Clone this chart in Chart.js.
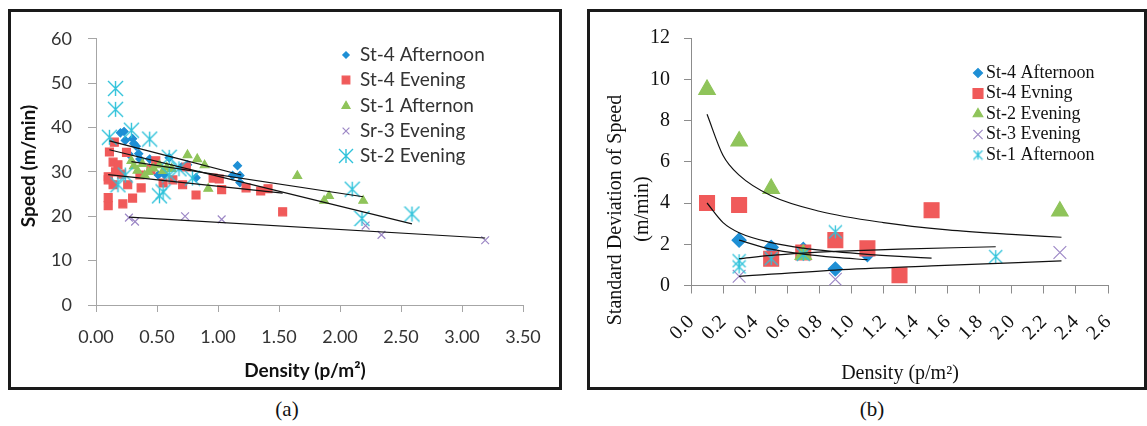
<!DOCTYPE html>
<html>
<head>
<meta charset="utf-8">
<title>Speed and standard deviation of speed vs density</title>
<script src="https://cdn.jsdelivr.net/npm/chart.js@4.4.0/dist/chart.umd.min.js"></script>
<style>
    html, body { margin: 0; padding: 0; background: #fff; }
    body { width: 1147px; height: 426px; position: relative; overflow: hidden; }
    .panel { position: absolute; top: 9px; height: 375px; border: 3px solid #1a1a1a; background: #fff; }
    #panelA { left: 8px; width: 548px; }
    #panelB { left: 587px; width: 554px; }
    .caption { position: absolute; top: 397px; width: 60px; text-align: center;
               font: 21px "Liberation Serif", "Times New Roman", serif; color: #111; }
</style>
</head>
<body>
<div class="panel" id="panelA"><canvas id="speedChart"></canvas></div>
<div class="panel" id="panelB"><canvas id="sdChart"></canvas></div>
<div class="caption" style="left:257px">(a)</div>
<div class="caption" style="left:842px">(b)</div>

<script>
// ---------- (a) speed vs density ----------
const aNames = ['St-4 Afternoon', 'St-4 Evening', 'St-1 Afternon', 'Sr-3 Evening', 'St-2 Evening'];
const aXTicks = [0, 0.5, 1.0, 1.5, 2.0, 2.5, 3.0, 3.5];
const aYTicks = [0, 10, 20, 30, 40, 50, 60];

const a4AftX = [0.20, 0.23, 0.24, 0.30, 0.31, 0.33, 0.27, 0.35, 0.36, 0.44, 0.51, 0.56, 0.60, 0.70, 0.75, 0.82, 1.12, 1.16, 1.18, 1.18];
const a4AftY = [38.8, 39.1, 37.1, 37.5, 36.4, 35.8, 34.0, 34.1, 32.9, 32.9, 29.3, 29.4, 33.2, 31.1, 31.6, 28.7, 29.2, 31.4, 29.2, 27.6];

const a4EveX = [0.15, 0.11, 0.25, 0.14, 0.18, 0.16, 0.10, 0.10, 0.14, 0.21, 0.26, 0.37, 0.10, 0.10, 0.22, 0.30, 0.36, 0.45, 0.49, 0.55, 0.63, 0.71, 0.74, 0.82, 0.96, 1.01, 1.03, 1.23, 1.35, 1.41, 1.53];
const a4EveY = [36.7, 34.5, 34.4, 32.2, 31.6, 30.0, 28.9, 28.2, 27.1, 29.5, 27.1, 26.4, 24.2, 22.4, 22.8, 24.1, 29.3, 30.5, 32.5, 27.5, 28.2, 27.1, 31.1, 24.8, 28.6, 28.4, 26.0, 26.4, 25.7, 26.2, 21.0];

const a1AftX = [0.29, 0.31, 0.34, 0.38, 0.40, 0.43, 0.47, 0.52, 0.55, 0.58, 0.62, 0.75, 0.83, 0.89, 0.92, 1.65, 1.87, 1.91, 2.19];
const a1AftY = [32.5, 31.3, 30.3, 31.8, 29.2, 30.0, 30.8, 31.5, 30.2, 31.0, 30.7, 33.8, 32.9, 31.5, 26.2, 29.1, 23.5, 24.6, 23.5];

const a3EveX = [0.27, 0.32, 0.73, 1.03, 2.21, 2.34, 3.19];
const a3EveY = [19.7, 18.8, 20.0, 19.3, 17.9, 15.8, 14.6];

const a2EveX = [0.16, 0.16, 0.11, 0.29, 0.44, 0.18, 0.24, 0.60, 0.60, 0.68, 0.52, 0.55, 0.79, 2.10, 2.18, 2.59];
const a2EveY = [48.8, 44.1, 37.8, 39.4, 37.4, 27.1, 29.3, 33.3, 29.3, 30.7, 24.6, 25.5, 28.6, 26.1, 19.5, 20.5];

// linear trend lines, end points
const aFit4AftX = [0.11, 1.19], aFit4AftY = [37.0, 29.3];
const aFit4EveX = [0.10, 1.53], aFit4EveY = [29.4, 25.2];
const aFit1AftX = [0.29, 2.19], aFit1AftY = [32.3, 24.4];
const aFit3EveX = [0.27, 3.19], aFit3EveY = [19.8, 15.1];
const aFit2EveX = [0.11, 2.59], aFit2EveY = [35.0, 18.3];

// ---------- (b) standard deviation of speed vs density ----------
const bNames = ['St-4 Afternoon', 'St-4 Evning', 'St-2 Evening', 'St-3 Evening', 'St-1 Afternoon'];
const bXTicks = [0, 0.2, 0.4, 0.6, 0.8, 1.0, 1.2, 1.4, 1.6, 1.8, 2.0, 2.2, 2.4, 2.6];
const bYTicks = [0, 2, 4, 6, 8, 10, 12];

const b4AftX = [0.3, 0.5, 0.7, 0.9, 1.1];
const b4AftY = [2.2, 1.85, 1.75, 0.8, 1.5];
const b4EveX = [0.1, 0.3, 0.5, 0.7, 0.9, 1.1, 1.3, 1.5];
const b4EveY = [4.0, 3.9, 1.3, 1.6, 2.2, 1.8, 0.5, 3.65];
const b2EveX = [0.1, 0.3, 0.5, 0.7, 2.3];
const b2EveY = [9.5, 7.0, 4.7, 1.5, 3.6];
const b3EveX = [0.3, 0.9, 2.3];
const b3EveY = [0.45, 0.3, 1.6];
const b1AftX = [0.3, 0.3, 0.5, 0.7, 0.9, 1.9];
const b1AftY = [1.2, 0.9, 1.3, 1.5, 2.6, 1.4];

// fitted curves, points
const bFit2EveX = [0.1, 0.2, 0.3, 0.5, 0.8, 1.2, 1.6, 2.0, 2.31];
const bFit2EveY = [8.3, 6.3, 5.35, 4.35, 3.6, 3.05, 2.7, 2.48, 2.34];
const bFit4EveX = [0.1, 0.2, 0.3, 0.5, 0.7, 0.9, 1.1, 1.3, 1.5];
const bFit4EveY = [4.0, 3.05, 2.56, 2.08, 1.81, 1.64, 1.51, 1.41, 1.33];
const bFit4AftX = [0.3, 0.5, 0.7, 0.9, 1.1];
const bFit4AftY = [2.2, 1.76, 1.52, 1.36, 1.25];
const bFit1AftX = [0.3, 0.5, 0.7, 0.9, 1.3, 1.9];
const bFit1AftY = [1.3, 1.46, 1.57, 1.65, 1.76, 1.88];
const bFit3EveX = [0.3, 0.9, 1.5, 2.31];
const bFit3EveY = [0.44, 0.75, 0.95, 1.19];

const BLUE = '#1e8fd5', RED = '#f05a5a', GREEN = '#8fc45a', PURPLE = '#9d88c6', CYAN = '#2ec2da';

function toPoints(xs, ys) {
    return xs.map(function(x, i) { return { x: x, y: ys[i] }; });
}

// excel style asterisk marker: vertical bar plus an X
function asterisk(size, color, width) {
    const c = document.createElement('canvas');
    c.width = size; c.height = size;
    const g = c.getContext('2d');
    const m = size / 2, r = size / 2 - 1;
    g.strokeStyle = color;
    g.lineWidth = width;
    g.beginPath();
    g.moveTo(m, m - r); g.lineTo(m, m + r);
    g.moveTo(m - r, m - r); g.lineTo(m + r, m + r);
    g.moveTo(m + r, m - r); g.lineTo(m - r, m + r);
    g.stroke();
    return c;
}

function scatterSet(label, xs, ys, color, style, radius, order) {
    return {
        label: label,
        data: toPoints(xs, ys),
        pointStyle: style,
        pointRadius: radius,
        pointHoverRadius: radius,
        backgroundColor: color,
        borderColor: color,
        borderWidth: 1.2,
        order: order
    };
}

function trendSet(xs, ys) {
    return {
        label: '',
        isTrend: true,
        data: toPoints(xs, ys),
        showLine: true,
        pointRadius: 0,
        pointHoverRadius: 0,
        borderColor: '#111',
        borderWidth: 1.2,
        tension: 0.4,
        cubicInterpolationMode: 'monotone',
        order: 0
    };
}

// legend and axis titles are placed where the original figure has them
const panelText = {
    id: 'panelText',
    afterDraw: function(chart, args, opts) {
        const ctx = chart.ctx;
        ctx.save();
        const lg = opts.legend;
        let row = 0;
        chart.data.datasets.forEach(function(ds) {
            if (ds.isTrend) return;
            const y = lg.rows[row];
            const mk = lg.markers[row];
            ctx.fillStyle = ds.backgroundColor;
            ctx.strokeStyle = ds.borderColor;
            ctx.lineWidth = ds.borderWidth;
            Chart.helpers.drawPoint(ctx, { pointStyle: mk.style, radius: mk.r, rotation: 0, borderWidth: ds.borderWidth }, lg.x, y);
            ctx.fillStyle = lg.color;
            ctx.font = lg.font;
            ctx.textAlign = 'left';
            ctx.textBaseline = 'middle';
            ctx.fillText(ds.label, lg.textX, y);
            row++;
        });
        opts.titles.forEach(function(t) {
            ctx.save();
            ctx.translate(t.x, t.y);
            if (t.rot) ctx.rotate(-Math.PI / 2);
            ctx.font = t.font;
            ctx.fillStyle = t.color;
            ctx.textAlign = 'center';
            ctx.textBaseline = 'middle';
            ctx.fillText(t.text, 0, 0);
            ctx.restore();
        });
        ctx.restore();
    }
};

document.addEventListener('DOMContentLoaded', function() {

    Chart.defaults.animation = false;

    // Chart (a): Speed vs Density

    const speedCtx = document.getElementById('speedChart');
    const sans = 'Lato, "Open Sans", sans-serif';
    if (speedCtx) {
        new Chart(speedCtx, {
            type: 'scatter',
            data: {
                datasets: [
                    scatterSet(aNames[0], a4AftX, a4AftY, BLUE, 'rectRot', 4, 5),
                    scatterSet(aNames[1], a4EveX, a4EveY, RED, 'rect', 5.6, 4),
                    scatterSet(aNames[2], a1AftX, a1AftY, GREEN, 'triangle', 5, 3),
                    scatterSet(aNames[3], a3EveX, a3EveY, PURPLE, 'crossRot', 5.5, 2),
                    scatterSet(aNames[4], a2EveX, a2EveY, CYAN, asterisk(17, CYAN, 1.4), 8, 1),
                    trendSet(aFit4AftX, aFit4AftY),
                    trendSet(aFit4EveX, aFit4EveY),
                    trendSet(aFit1AftX, aFit1AftY),
                    trendSet(aFit3EveX, aFit3EveY),
                    trendSet(aFit2EveX, aFit2EveY)
                ]
            },
            options: {
                responsive: true,
                maintainAspectRatio: false,
                layout: { padding: { top: 16, right: 36, left: 0, bottom: 0 } },
                plugins: {
                    legend: { display: false },
                    tooltip: { enabled: false },
                    panelText: {
                        legend: {
                            x: 335, textX: 349,
                            rows: [43, 68, 94, 119, 144],
                            font: '19px ' + sans,
                            color: '#333',
                            markers: [
                                { style: 'rectRot', r: 3.2 },
                                { style: 'rect', r: 5.4 },
                                { style: 'triangle', r: 4.6 },
                                { style: 'crossRot', r: 4.8 },
                                { style: asterisk(16, CYAN, 1.4), r: 8 }
                            ]
                        },
                        titles: [
                            { text: 'Speed (m/min)', x: 18, y: 154, rot: true, font: 'bold 19px ' + sans, color: '#111' },
                            { text: 'Density (p/m\u00B2)', x: 294, y: 359, rot: false, font: 'bold 19px ' + sans, color: '#111' }
                        ]
                    }
                },
                scales: {
                    x: {
                        type: 'linear',
                        min: 0,
                        max: 3.5,
                        afterBuildTicks: function(s) { s.ticks = aXTicks.map(function(v) { return { value: v }; }); },
                        afterFit: function(s) { s.height = 82; },
                        grid: { drawOnChartArea: false, drawTicks: true, tickLength: 7, color: '#a6a6a6' },
                        border: { display: true, color: '#a6a6a6' },
                        ticks: {
                            padding: 14,
                            color: '#333',
                            font: { family: sans, size: 18 },
                            callback: function(value) { return value.toFixed(2); }
                        }
                    },
                    y: {
                        min: 0,
                        max: 60,
                        afterBuildTicks: function(s) { s.ticks = aYTicks.map(function(v) { return { value: v }; }); },
                        afterFit: function(s) { s.width = 85; },
                        grid: { drawOnChartArea: false, drawTicks: true, tickLength: 8, color: '#a6a6a6' },
                        border: { display: true, color: '#a6a6a6' },
                        ticks: {
                            padding: 16,
                            color: '#333',
                            font: { family: sans, size: 18 }
                        }
                    }
                }
            },
            plugins: [panelText]
        });
    }

    // Chart (b): Standard deviation of speed vs Density

    const sdCtx = document.getElementById('sdChart');
    const serif = '"Liberation Serif", "Times New Roman", serif';
    if (sdCtx) {
        new Chart(sdCtx, {
            type: 'scatter',
            data: {
                datasets: [
                    scatterSet(bNames[0], b4AftX, b4AftY, BLUE, 'rectRot', 7, 5),
                    scatterSet(bNames[1], b4EveX, b4EveY, RED, 'rect', 10.5, 4),
                    scatterSet(bNames[2], b2EveX, b2EveY, GREEN, 'triangle', 9.5, 3),
                    scatterSet(bNames[3], b3EveX, b3EveY, PURPLE, 'crossRot', 9, 2),
                    scatterSet(bNames[4], b1AftX, b1AftY, CYAN, asterisk(15, CYAN, 1.3), 7, 1),
                    trendSet(bFit2EveX, bFit2EveY),
                    trendSet(bFit4EveX, bFit4EveY),
                    trendSet(bFit4AftX, bFit4AftY),
                    trendSet(bFit1AftX, bFit1AftY),
                    trendSet(bFit3EveX, bFit3EveY)
                ]
            },
            options: {
                responsive: true,
                maintainAspectRatio: false,
                layout: { padding: { top: 18, right: 36, left: 0, bottom: 0 } },
                plugins: {
                    legend: { display: false },
                    tooltip: { enabled: false },
                    panelText: {
                        legend: {
                            x: 388, textX: 396,
                            rows: [61, 81.5, 102, 122.5, 143],
                            font: '18px ' + serif,
                            color: '#111',
                            markers: [
                                { style: 'rectRot', r: 4.5 },
                                { style: 'rect', r: 7 },
                                { style: 'triangle', r: 5.5 },
                                { style: 'crossRot', r: 6.5 },
                                { style: asterisk(11, CYAN, 1.2), r: 5 }
                            ]
                        },
                        titles: [
                            { text: 'Standard Deviation of Speed', x: 26, y: 198, rot: true, font: '20px ' + serif, color: '#111' },
                            { text: '(m/min)', x: 53, y: 197, rot: true, font: '20px ' + serif, color: '#111' },
                            { text: 'Density (p/m\u00B2)', x: 310, y: 362, rot: false, font: '20px ' + serif, color: '#111' }
                        ]
                    }
                },
                scales: {
                    x: {
                        type: 'linear',
                        min: 0,
                        max: 2.6,
                        afterBuildTicks: function(s) { s.ticks = bXTicks.map(function(v) { return { value: v }; }); },
                        afterFit: function(s) { s.height = 101.5; },
                        grid: { drawOnChartArea: false, drawTicks: true, tickLength: 8, color: '#8c8c8c' },
                        border: { display: true, color: '#8c8c8c' },
                        ticks: {
                            autoSkip: false,
                            minRotation: 45,
                            maxRotation: 45,
                            padding: 17,
                            color: '#111',
                            font: { family: serif, size: 20 },
                            callback: function(value) { return value.toFixed(1); }
                        }
                    },
                    y: {
                        min: 0,
                        max: 12,
                        afterBuildTicks: function(s) { s.ticks = bYTicks.map(function(v) { return { value: v }; }); },
                        afterFit: function(s) { s.width = 101; },
                        grid: { drawOnChartArea: false, drawTicks: true, tickLength: 7, color: '#8c8c8c' },
                        border: { display: true, color: '#8c8c8c' },
                        ticks: {
                            padding: 14,
                            color: '#111',
                            font: { family: serif, size: 20 }
                        }
                    }
                }
            },
            plugins: [panelText]
        });
    }

});
</script>
</body>
</html>
